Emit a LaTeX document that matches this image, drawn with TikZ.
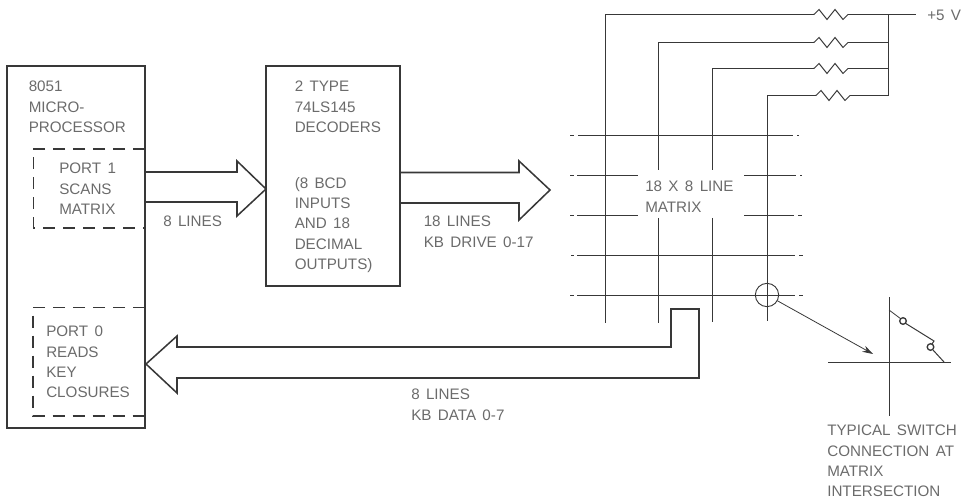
\documentclass[tikz,border=0pt]{standalone}
\usepackage{fontspec}
\setmainfont[WordSpace=1.5]{Liberation Sans}
\usetikzlibrary{arrows.meta}
\definecolor{ink}{gray}{0.22}
\definecolor{txt}{gray}{0.42}
\tikzset{
  x=0.75pt,y=-0.75pt,
  box/.style={draw=ink,line width=1.15pt,line join=miter},
  bus/.style={draw=ink,line width=1.15pt,line join=miter},
  dashbox/.style={draw=ink,line width=0.9pt,dash pattern=on 9pt off 6pt},
  wire/.style={draw=ink,line width=0.75pt},
  grid/.style={draw=ink,line width=0.6pt},
  lab/.style={text=txt,font=\fontsize{11.4}{15.2}\selectfont,align=left,anchor=north west,inner sep=0pt},
}
\newcommand{\resist}[2]{\draw[wire] (#1,#2) -- ++(1,0) -- ++(5,-5) -- ++(8,10) -- ++(8,-10) -- ++(8,10) -- ++(5,-5);}
\begin{document}
\begin{tikzpicture}
\useasboundingbox (0,0) rectangle (971,499);
\node[lab] (t1) at (28.5,81) {8051\\MICRO-\\PROCESSOR};
\node[lab] (t2) at (59,163) {PORT 1\\SCANS\\MATRIX};
\node[lab] (t3) at (46,326) {PORT 0\\READS\\KEY\\CLOSURES};
\node[lab] (t4) at (294.5,81) {2 TYPE\\74LS145\\DECODERS\\[26.8pt](8 BCD\\INPUTS\\AND 18\\DECIMAL\\OUTPUTS)};
\node[lab] (t5) at (163,216) {8 LINES};
\node[lab] (t6) at (423.5,216) {18 LINES\\KB DRIVE 0-17};
\node[lab] (t7) at (645,181) {18 X 8 LINE\\MATRIX};
\node[lab] (t8) at (411,389) {8 LINES\\KB DATA 0-7};
\node[lab] (t9) at (827,425) {TYPICAL SWITCH\\CONNECTION AT\\MATRIX\\INTERSECTION};
\node[lab] (t10) at (927,10) {+5 V};
% boxes
\draw[box] (145,66) -- (7,66) -- (7,428) -- (145,428) -- cycle;
\draw[box] (266,66) rectangle (400,286);
\draw[dashbox] (145,149) -- (33.5,149) -- (33.5,228) -- (145,228);
\draw[dashbox] (145,307.5) -- (33,307.5) -- (33,416) -- (145,416);
% arrows
\draw[bus] (145,172) -- (237,172) -- (237,161) -- (266,189) -- (237,216) -- (237,202) -- (145,202);
\draw[bus] (400,172.5) -- (519,172.5) -- (519,161) -- (550,190) -- (519,220) -- (519,203) -- (400,203);
\draw[bus] (671,309) -- (671,347) -- (177,347) -- (177,336) -- (146,364) -- (177,393) -- (177,378) -- (699,378) -- (699,309) -- cycle;
% wires
\draw[wire] (605.5,170) -- (605.5,14.5) -- (813,14.5);
\draw[wire] (658.5,170) -- (658.5,42.5) -- (813,42.5);
\draw[wire] (712.5,170) -- (712.5,68.5) -- (813,68.5);
\draw[wire] (767.5,170) -- (767.5,95.5) -- (815,95.5);
\resist{813}{14.5}
\resist{813}{42.5}
\resist{813}{68.5}
\resist{815}{95.5}
\draw[wire] (848,14.5) -- (916,14.5);
\draw[wire] (848,42.5) -- (888.5,42.5);
\draw[wire] (848,68.5) -- (888.5,68.5);
\draw[wire] (850,95.5) -- (888.5,95.5) -- (888.5,14.5);
% matrix
\draw[grid] (605.5,170) -- (605.5,323);
\draw[grid] (767.5,170) -- (767.5,321);
\draw[grid] (658.5,218) -- (658.5,323);
\draw[grid] (712.5,218) -- (712.5,322);
\draw[grid] (570,135.5) -- (574,135.5) (578,135.5) -- (793,135.5) (797,135.5) -- (799,135.5);
\draw[grid] (570,175.5) -- (574,175.5) (577,175.5) -- (638,175.5) (744,175.5) -- (796,175.5) (800,175.5) -- (802,175.5);
\draw[grid] (570,215.5) -- (574,215.5) (577,215.5) -- (638,215.5) (744,215.5) -- (794,215.5) (798,215.5) -- (802,215.5);
\draw[grid] (571,255.5) -- (574,255.5) (577,255.5) -- (795,255.5) (799,255.5) -- (803,255.5);
\draw[grid] (570,295.5) -- (574,295.5) (577,295.5) -- (795,295.5) (799,295.5) -- (803,295.5);
% switch
\node[draw=ink,line width=0.7pt,circle,minimum size=17.5pt,inner sep=0pt] (c) at (767,295) {};
\draw[grid,-{Stealth[length=8pt,width=5pt]}] (c) -- (873,354);
\draw[grid] (889.5,297) -- (889.5,416);
\draw[wire] (828,362.5) -- (951,362.5);
\draw[grid] (889,310) -- (901,319);
\draw[wire] (905,323) -- (934,341) -- (932,344);
\draw[wire] (933,350) -- (944,362);
\draw[draw=ink,line width=1pt] (903,321) circle (3.3);
\draw[draw=ink,line width=1pt] (930.5,347) circle (3.3);
\end{tikzpicture}
\end{document}
